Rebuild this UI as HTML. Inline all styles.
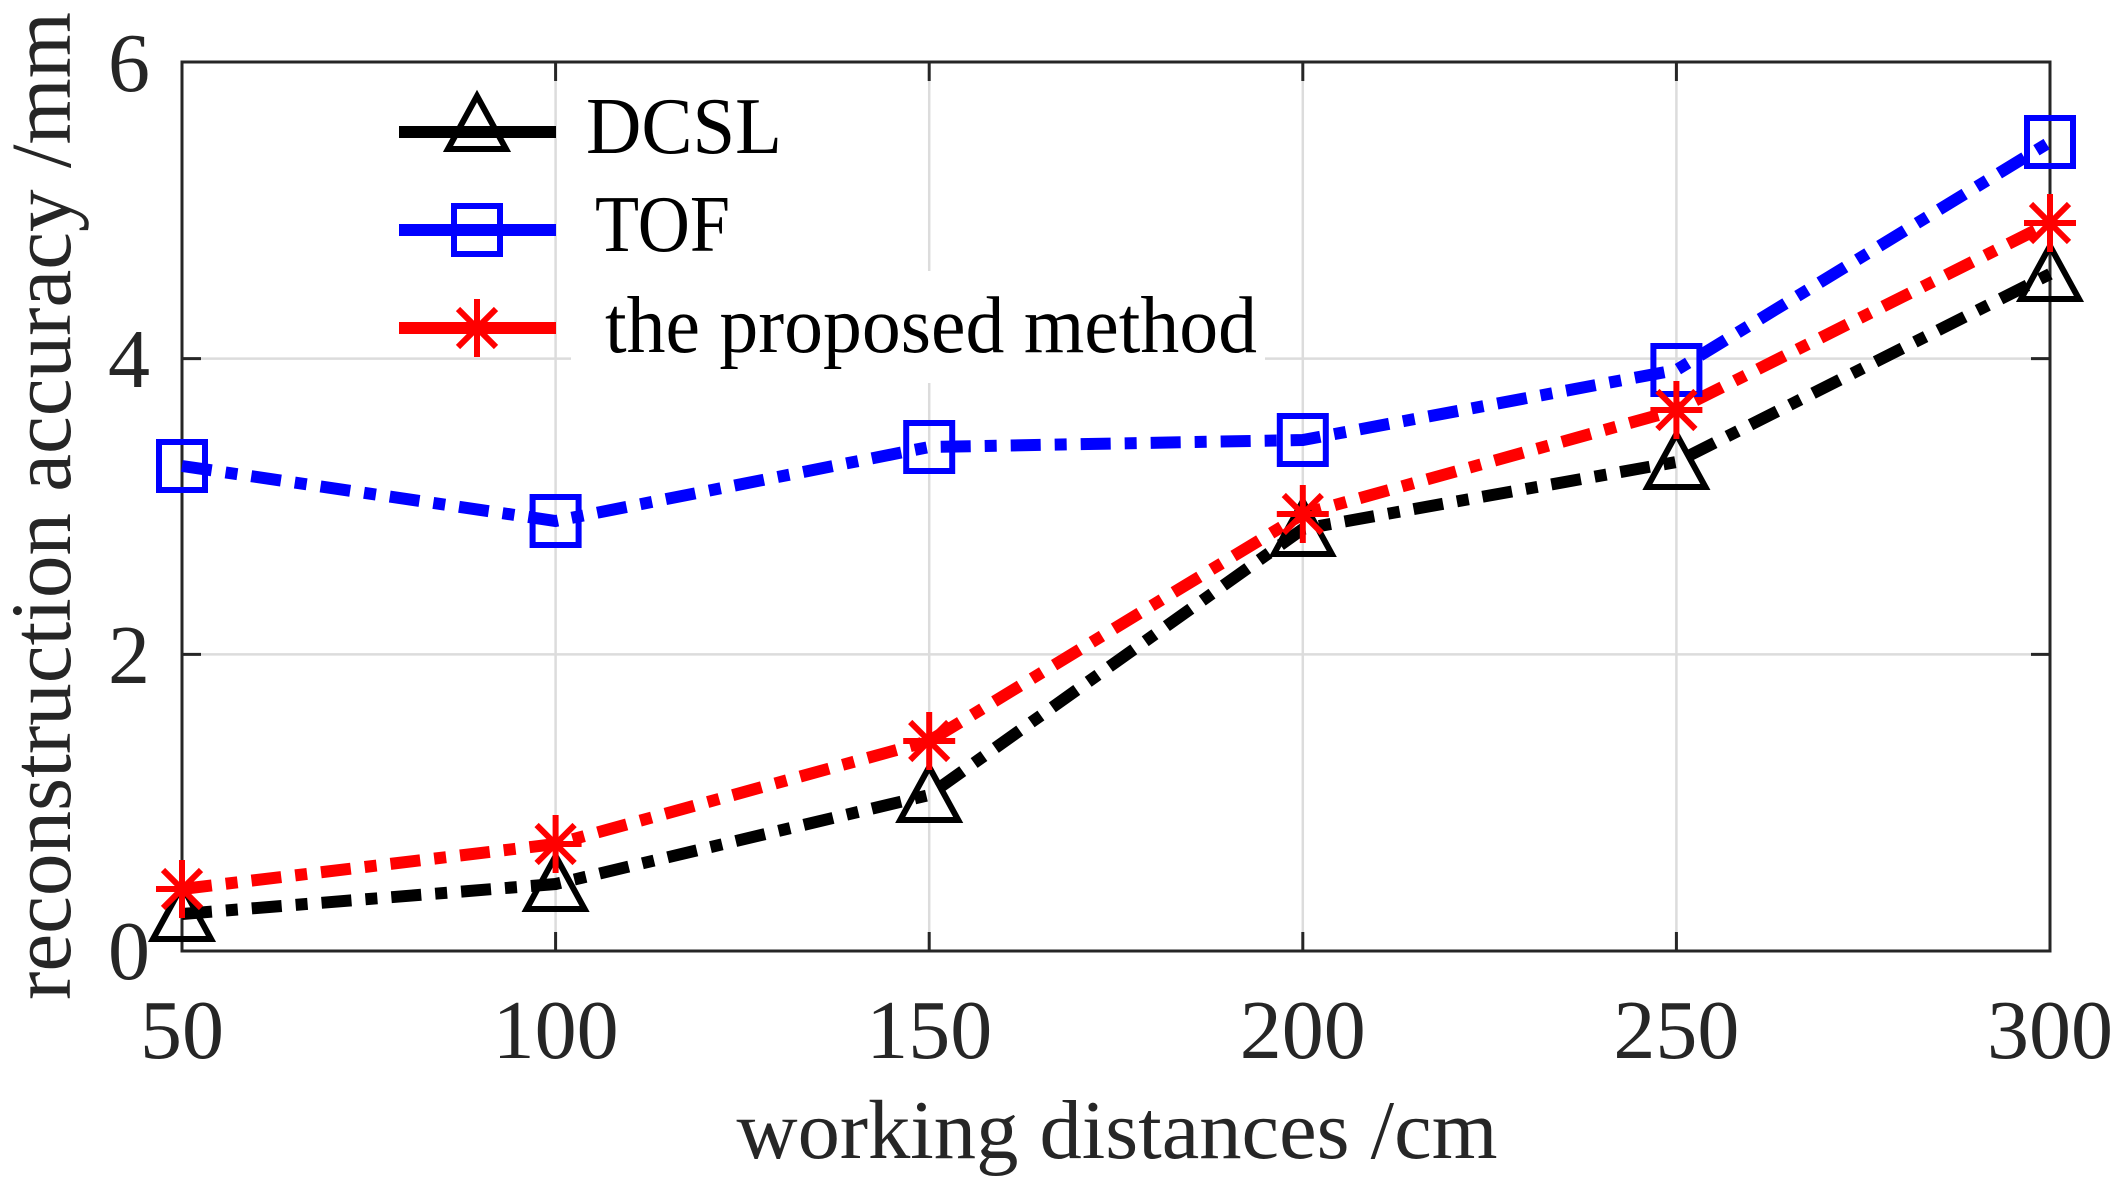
<!DOCTYPE html>
<html><head><meta charset="utf-8"><style>html,body{margin:0;padding:0;background:#fff}svg{display:block}</style></head>
<body>
<svg width="2120" height="1194" viewBox="0 0 2120 1194" xmlns="http://www.w3.org/2000/svg" font-family="Liberation Serif, serif">
<rect width="2120" height="1194" fill="#fff"/>
<!-- grid -->
<g stroke="#dcdcdc" stroke-width="2.5">
<line x1="555.6" y1="62" x2="555.6" y2="951"/>
<line x1="929.2" y1="62" x2="929.2" y2="951"/>
<line x1="1302.8" y1="62" x2="1302.8" y2="951"/>
<line x1="1676.4" y1="62" x2="1676.4" y2="951"/>
<line x1="182" y1="358.6" x2="2050" y2="358.6"/>
<line x1="182" y1="654.4" x2="2050" y2="654.4"/>
</g>
<!-- legend text background -->
<rect x="571" y="271" width="694" height="112" fill="#fff"/>
<!-- axes -->
<rect x="182" y="62" width="1868" height="889" fill="none" stroke="#262626" stroke-width="3"/>
<g stroke="#262626" stroke-width="3">
<line x1="555.6" y1="951" x2="555.6" y2="932"/><line x1="929.2" y1="951" x2="929.2" y2="932"/><line x1="1302.8" y1="951" x2="1302.8" y2="932"/><line x1="1676.4" y1="951" x2="1676.4" y2="932"/>
<line x1="555.6" y1="62" x2="555.6" y2="81"/><line x1="929.2" y1="62" x2="929.2" y2="81"/><line x1="1302.8" y1="62" x2="1302.8" y2="81"/><line x1="1676.4" y1="62" x2="1676.4" y2="81"/>
<line x1="182" y1="358.6" x2="201" y2="358.6"/><line x1="182" y1="654.4" x2="201" y2="654.4"/>
<line x1="2050" y1="358.6" x2="2031" y2="358.6"/><line x1="2050" y1="654.4" x2="2031" y2="654.4"/>
</g>
<!-- tick labels -->
<g font-size="84" fill="#262626">
<text x="150" y="979" text-anchor="end">0</text>
<text x="150" y="683" text-anchor="end">2</text>
<text x="150" y="387" text-anchor="end">4</text>
<text x="150" y="91" text-anchor="end">6</text>
<g text-anchor="middle">
<text x="182" y="1058">50</text>
<text x="555.6" y="1058">100</text>
<text x="929.2" y="1058">150</text>
<text x="1302.8" y="1058">200</text>
<text x="1676.4" y="1058">250</text>
<text x="2050" y="1058">300</text>
</g>
</g>
<text x="1117" y="1158" font-size="84" text-anchor="middle" textLength="761" lengthAdjust="spacingAndGlyphs" fill="#262626">working distances /cm</text>
<text transform="translate(70,506) rotate(-90)" x="0" y="0" font-size="86" text-anchor="middle" textLength="988" lengthAdjust="spacingAndGlyphs" fill="#262626">reconstruction accuracy /mm</text>
<!-- series -->
<g fill="none" stroke-width="12" stroke-dasharray="30 14 12 14">
<polyline stroke="#000" points="182,914 555.6,884 929.2,795 1302.8,529 1676.4,462 2050,274"/>
<polyline stroke="#0000ff" points="182,466 555.6,521 929.2,447 1302.8,440 1676.4,370 2050,142"/>
<polyline stroke="#ff0000" points="182,889 555.6,844 929.2,741 1302.8,514 1676.4,410 2050,223"/>
</g>
<defs>
<path id="tri" d="M0,-28 L29,25 L-29,25 Z" fill="none" stroke="#000" stroke-width="6"/>
<rect id="sq" x="-23" y="-24" width="46" height="48" fill="none" stroke="#0000ff" stroke-width="6"/>
<g id="st" stroke="#ff0000" stroke-width="6"><line x1="0" y1="-29" x2="0" y2="29"/><line x1="-26" y1="0" x2="26" y2="0"/><line x1="-19" y1="-19" x2="19" y2="19"/><line x1="-19" y1="19" x2="19" y2="-19"/></g>
</defs>
<g>
<use href="#tri" x="182" y="914"/><use href="#tri" x="555.6" y="884"/><use href="#tri" x="929.2" y="795"/><use href="#tri" x="1302.8" y="529"/><use href="#tri" x="1676.4" y="462"/><use href="#tri" x="2050" y="274"/>
<use href="#sq" x="182" y="466"/><use href="#sq" x="555.6" y="521"/><use href="#sq" x="929.2" y="447"/><use href="#sq" x="1302.8" y="440"/><use href="#sq" x="1676.4" y="370"/><use href="#sq" x="2050" y="142"/>
<use href="#st" x="182" y="889"/><use href="#st" x="555.6" y="844"/><use href="#st" x="929.2" y="741"/><use href="#st" x="1302.8" y="514"/><use href="#st" x="1676.4" y="410"/><use href="#st" x="2050" y="223"/>
</g>
<!-- legend -->
<line x1="399" y1="132" x2="556" y2="132" stroke="#000" stroke-width="12"/>
<use href="#tri" x="477" y="124"/>
<line x1="399" y1="230" x2="556" y2="230" stroke="#0000ff" stroke-width="12"/>
<use href="#sq" x="477" y="230"/>
<line x1="399" y1="328" x2="556" y2="328" stroke="#ff0000" stroke-width="12"/>
<use href="#st" x="477" y="328"/>
<g font-size="80" fill="#000">
<text x="586" y="153" textLength="196" lengthAdjust="spacingAndGlyphs">DCSL</text>
<text x="595" y="251" textLength="135" lengthAdjust="spacingAndGlyphs">TOF</text>
<text x="605" y="352" textLength="652" lengthAdjust="spacingAndGlyphs">the proposed method</text>
</g>
</svg>
</body></html>
